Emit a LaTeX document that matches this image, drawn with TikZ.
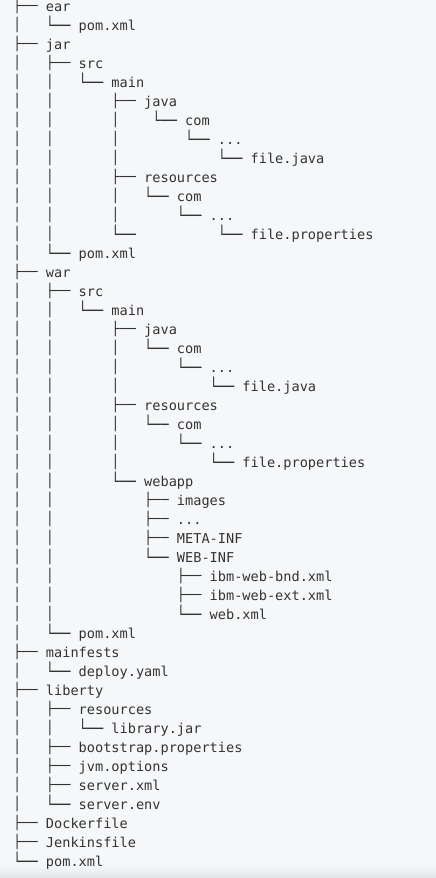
\documentclass[tikz,border=0pt]{standalone}
\usepackage{fontspec}
\usepackage{graphicx}
\newfontfamily\treefont{DejaVu Sans Mono}
\usetikzlibrary{positioning}

\definecolor{bgcol}{HTML}{F6F7F9}
\definecolor{botcol}{HTML}{E3E4E6}
\definecolor{txtcol}{HTML}{333333}

% box glyphs squeezed to 15.5pt so the bars break between rows
\newsavebox\tbox
\def\tsegh{1015808}
\newcommand{\tch}[1]{\sbox\tbox{#1}%
  \raisebox{\dimexpr\numexpr(\ht\tbox-\dp\tbox)/2-(\ht\tbox-\dp\tbox)*\tsegh/(2*(\ht\tbox+\dp\tbox))\relax sp\relax}{\resizebox*{\wd\tbox}{\tsegh sp}{#1}}}

% tree pieces, four columns each
\newcommand{\tbar}{\tch{│}~~~}
\newcommand{\tgap}{~~~~}
\newcommand{\ttee}{\tch{├──}~}
\newcommand{\tlast}{\tch{└──}~}

\begin{document}
\begin{tikzpicture}[x=1pt, y=1pt, node distance=19pt,
			row/.style={anchor=base west, inner sep=0pt, text=txtcol, font=\treefont\fontsize{13.6pt}{19pt}\selectfont}]

			\useasboundingbox (0,0) rectangle (436,-878);
			\fill[bgcol] (0,0) rectangle (436,-878);
			\shade[top color=bgcol, bottom color=botcol] (0,-866) rectangle (436,-878);

			% ear
			\node[row] (r1) at (13,-11) {\ttee ear};
			\node[below=of r1.base west, row] (r2) {\tbar\tlast pom.xml};
			% jar
			\node[below=of r2.base west, row] (r3) {\ttee jar};
			\node[below=of r3.base west, row] (r4) {\tbar\ttee src};
			\node[below=of r4.base west, row] (r5) {\tbar\tbar\tlast main};
			\node[below=of r5.base west, row] (r6) {\tbar\tbar\tgap\ttee java};
			\node[below=of r6.base west, row] (r7) {\tbar\tbar\tgap\tbar~\tlast com};
			\node[below=of r7.base west, row] (r8) {\tbar\tbar\tgap\tbar~\tgap\tlast ...};
			\node[below=of r8.base west, row] (r9) {\tbar\tbar\tgap\tbar~\tgap\tgap\tlast file.java};
			\node[below=of r9.base west, row] (r10) {\tbar\tbar\tgap\ttee resources};
			\node[below=of r10.base west, row] (r11) {\tbar\tbar\tgap\tbar\tlast com};
			\node[below=of r11.base west, row] (r12) {\tbar\tbar\tgap\tbar\tgap\tlast ...};
			\node[below=of r12.base west, row] (r13) {\tbar\tbar\tgap\tlast\tgap\tgap~\tlast file.properties};
			\node[below=of r13.base west, row] (r14) {\tbar\tlast pom.xml};
			% war
			\node[below=of r14.base west, row] (r15) {\ttee war};
			\node[below=of r15.base west, row] (r16) {\tbar\ttee src};
			\node[below=of r16.base west, row] (r17) {\tbar\tbar\tlast main};
			\node[below=of r17.base west, row] (r18) {\tbar\tbar\tgap\ttee java};
			\node[below=of r18.base west, row] (r19) {\tbar\tbar\tgap\tbar\tlast com};
			\node[below=of r19.base west, row] (r20) {\tbar\tbar\tgap\tbar\tgap\tlast ...};
			\node[below=of r20.base west, row] (r21) {\tbar\tbar\tgap\tbar\tgap\tgap\tlast file.java};
			\node[below=of r21.base west, row] (r22) {\tbar\tbar\tgap\ttee resources};
			\node[below=of r22.base west, row] (r23) {\tbar\tbar\tgap\tbar\tlast com};
			\node[below=of r23.base west, row] (r24) {\tbar\tbar\tgap\tbar\tgap\tlast ...};
			\node[below=of r24.base west, row] (r25) {\tbar\tbar\tgap\tbar\tgap\tgap\tlast file.properties};
			\node[below=of r25.base west, row] (r26) {\tbar\tbar\tgap\tlast webapp};
			\node[below=of r26.base west, row] (r27) {\tbar\tbar\tgap\tgap\ttee images};
			\node[below=of r27.base west, row] (r28) {\tbar\tbar\tgap\tgap\ttee ...};
			\node[below=of r28.base west, row] (r29) {\tbar\tbar\tgap\tgap\ttee META-INF};
			\node[below=of r29.base west, row] (r30) {\tbar\tbar\tgap\tgap\tlast WEB-INF};
			\node[below=of r30.base west, row] (r31) {\tbar\tbar\tgap\tgap\tgap\ttee ibm-web-bnd.xml};
			\node[below=of r31.base west, row] (r32) {\tbar\tbar\tgap\tgap\tgap\ttee ibm-web-ext.xml};
			\node[below=of r32.base west, row] (r33) {\tbar\tbar\tgap\tgap\tgap\tlast web.xml};
			\node[below=of r33.base west, row] (r34) {\tbar\tlast pom.xml};
			% mainfests
			\node[below=of r34.base west, row] (r35) {\ttee mainfests};
			\node[below=of r35.base west, row] (r36) {\tbar\tlast deploy.yaml};
			% liberty
			\node[below=of r36.base west, row] (r37) {\ttee liberty};
			\node[below=of r37.base west, row] (r38) {\tbar\ttee resources};
			\node[below=of r38.base west, row] (r39) {\tbar\tbar\tlast library.jar};
			\node[below=of r39.base west, row] (r40) {\tbar\ttee bootstrap.properties};
			\node[below=of r40.base west, row] (r41) {\tbar\ttee jvm.options};
			\node[below=of r41.base west, row] (r42) {\tbar\ttee server.xml};
			\node[below=of r42.base west, row] (r43) {\tbar\tlast server.env};
			% top level files
			\node[below=of r43.base west, row] (r44) {\ttee Dockerfile};
			\node[below=of r44.base west, row] (r45) {\ttee Jenkinsfile};
			\node[below=of r45.base west, row] (r46) {\tlast pom.xml};
		\end{tikzpicture}
\end{document}
